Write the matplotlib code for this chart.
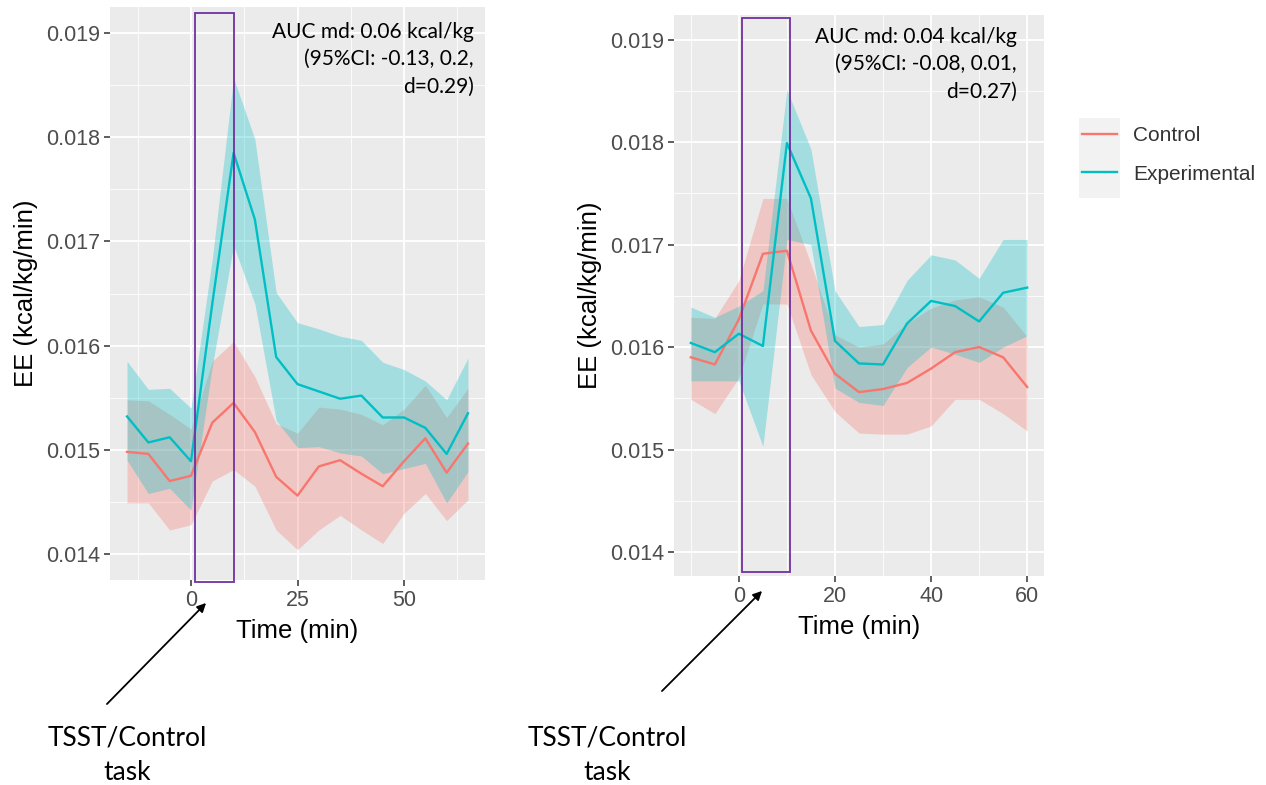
import matplotlib
matplotlib.use("Agg")
import matplotlib.pyplot as plt
from matplotlib.patches import Rectangle, FancyArrowPatch
from matplotlib.ticker import FixedLocator

# 左图: TSST 前后能量消耗
time_l = [-15, -10, -5, 0, 5, 10, 15, 20, 25, 30, 35, 40, 45, 50, 55, 60, 65]
ctrl_l = [0.01498, 0.01496, 0.01470, 0.01475, 0.01526, 0.01545, 0.01517, 0.01474, 0.01456,
          0.01484, 0.01490, 0.01477, 0.01465, 0.01489, 0.01511, 0.01478, 0.01506]
ctrl_l_hi = [0.01548, 0.01547, 0.01534, 0.01520, 0.01585, 0.01604, 0.01570, 0.01525, 0.01516,
             0.01541, 0.01539, 0.01534, 0.01524, 0.01539, 0.01562, 0.01531, 0.01559]
ctrl_l_lo = [0.01449, 0.01449, 0.01423, 0.01428, 0.01470, 0.01481, 0.01465, 0.01423, 0.01404,
             0.01423, 0.01437, 0.01423, 0.01410, 0.01439, 0.01458, 0.01432, 0.01452]
exp_l = [0.01532, 0.01507, 0.01512, 0.01489, 0.01640, 0.01785, 0.01721, 0.01589, 0.01563,
         0.01556, 0.01549, 0.01552, 0.01531, 0.01531, 0.01521, 0.01496, 0.01535]
exp_l_hi = [0.01585, 0.01558, 0.01559, 0.01540, 0.01683, 0.01857, 0.01798, 0.01651, 0.01622,
            0.01616, 0.01609, 0.01605, 0.01584, 0.01577, 0.01566, 0.01548, 0.01588]
exp_l_lo = [0.01490, 0.01458, 0.01463, 0.01442, 0.01580, 0.01696, 0.01640, 0.01528, 0.01502,
            0.01503, 0.01497, 0.01494, 0.01477, 0.01482, 0.01487, 0.01449, 0.01479]

# 右图
time_r = [-10, -5, 0, 5, 10, 15, 20, 25, 30, 35, 40, 45, 50, 55, 60]
ctrl_r = [0.01590, 0.01583, 0.01627, 0.01691, 0.01694, 0.01616, 0.01574, 0.01556, 0.01559,
          0.01565, 0.01579, 0.01595, 0.01600, 0.01590, 0.01561]
ctrl_r_hi = [0.01629, 0.01628, 0.01665, 0.01745, 0.01745, 0.01681, 0.01612, 0.01600, 0.01603,
             0.01623, 0.01638, 0.01646, 0.01649, 0.01639, 0.01610]
ctrl_r_lo = [0.01549, 0.01535, 0.01570, 0.01642, 0.01642, 0.01573, 0.01537, 0.01516, 0.01515,
             0.01515, 0.01523, 0.01549, 0.01549, 0.01535, 0.01518]
exp_r = [0.01604, 0.01595, 0.01613, 0.01601, 0.01799, 0.01745, 0.01606, 0.01584, 0.01583,
         0.01623, 0.01645, 0.01640, 0.01625, 0.01653, 0.01658]
exp_r_hi = [0.01639, 0.01629, 0.01640, 0.01655, 0.01851, 0.01793, 0.01655, 0.01620, 0.01622,
            0.01665, 0.01690, 0.01685, 0.01667, 0.01705, 0.01705]
exp_r_lo = [0.01567, 0.01567, 0.01567, 0.01503, 0.01705, 0.01700, 0.01560, 0.01546, 0.01543,
            0.01580, 0.01600, 0.01593, 0.01585, 0.01600, 0.01611]

yticks = [0.014, 0.015, 0.016, 0.017, 0.018, 0.019]
xticks_l = [0, 25, 50]
xticks_r = [0, 20, 40, 60]
groups = ["Control", "Experimental"]
notes = ["AUC md: 0.06 kcal/kg\n(95%CI: -0.13, 0.2,\nd=0.29)",
         "AUC md: 0.04 kcal/kg\n(95%CI: -0.08, 0.01,\nd=0.27)"]

RED = "#F8766D"
CYAN = "#00BFC4"
PURPLE = "#7030A0"
W, H = 1266, 785


def px(x, y):
    # 像素坐标 -> figure 坐标
    return x / W, 1 - y / H


def style_axis(ax, xticks, xminor, xlim, ylim):
    ax.set_facecolor("#EBEBEB")
    for s in ax.spines.values():
        s.set_visible(False)
    ax.set_xlim(*xlim)
    ax.set_ylim(*ylim)
    ax.xaxis.set_major_locator(FixedLocator(xticks))
    ax.xaxis.set_minor_locator(FixedLocator(xminor))
    ax.yaxis.set_major_locator(FixedLocator(yticks))
    ax.yaxis.set_minor_locator(FixedLocator([v + 0.0005 for v in yticks[:-1]]))
    ax.set_yticklabels(["%.3f" % v for v in yticks])
    ax.grid(which="major", color="white", lw=1.3)
    ax.grid(which="minor", color="white", lw=0.6)
    ax.set_axisbelow(True)
    ax.tick_params(which="major", length=4, width=1.1, color="#333333",
                   labelcolor="#4D4D4D", labelsize=15.5, pad=3)
    ax.tick_params(which="minor", length=0)
    ax.set_xlabel("Time (min)", fontsize=18.5, color="black", labelpad=6)
    ax.set_ylabel("EE (kcal/kg/min)", fontsize=18.5, color="black", labelpad=6)


def draw_panel(ax, t, c, c_lo, c_hi, e, e_lo, e_hi):
    ax.fill_between(t, c_lo, c_hi, color=RED, alpha=0.3, lw=0)
    ax.fill_between(t, e_lo, e_hi, color=CYAN, alpha=0.3, lw=0)
    l1, = ax.plot(t, c, color=RED, lw=1.7, label=groups[0])
    l2, = ax.plot(t, e, color=CYAN, lw=1.7, label=groups[1])
    return [l1, l2]


def main():
    plt.rcParams["font.family"] = ["Liberation Sans", "DejaVu Sans"]
    fig = plt.figure(figsize=(12.66, 7.85), dpi=100)

    ax1 = fig.add_axes([110 / W, 1 - 580 / H, 375 / W, 573 / H])
    ax2 = fig.add_axes([674 / W, 1 - 576 / H, 370 / W, 561 / H])

    handles = draw_panel(ax1, time_l, ctrl_l, ctrl_l_lo, ctrl_l_hi, exp_l, exp_l_lo, exp_l_hi)
    draw_panel(ax2, time_r, ctrl_r, ctrl_r_lo, ctrl_r_hi, exp_r, exp_r_lo, exp_r_hi)

    style_axis(ax1, xticks_l, [-12.5, 12.5, 37.5, 62.5], (-19, 69), (0.01375, 0.01925))
    style_axis(ax2, xticks_r, [-10, 10, 30, 50], (-13.5, 63.5), (0.013766, 0.01924))

    # 紫色方框标出 TSST 时段
    ax1.add_patch(Rectangle((0.9, -0.0035), 9.1, 0.993, transform=ax1.get_xaxis_transform(),
                            fill=False, ec=PURPLE, lw=1.3, clip_on=False, zorder=5))
    ax2.add_patch(Rectangle((0.6, 0.0071), 10.0, 0.9876, transform=ax2.get_xaxis_transform(),
                            fill=False, ec=PURPLE, lw=1.3, clip_on=False, zorder=5))

    # AUC 注释
    for (x, y), txt in zip([(474, 22), (1017, 27)], notes):
        fig.text(*px(x, y), txt, ha="right", va="top", fontsize=15,
                 family=["Lato", "DejaVu Sans"], linespacing=1.45)

    # 箭头 + TSST 文字
    for tail, head, cx in [((105, 706), (208, 601), 127), ((660, 693), (764, 589), 607)]:
        fig.add_artist(FancyArrowPatch(px(*tail), px(*head), transform=fig.transFigure,
                                       arrowstyle="-|>", mutation_scale=13, color="black", lw=1.3))
        fig.text(*px(cx, 755), "TSST/Control\ntask", ha="center", va="center", fontsize=19,
                 family=["Lato", "DejaVu Sans"], linespacing=1.45)

    # 图例
    fig.add_artist(Rectangle(px(1079, 198), 41 / W, 80 / H, transform=fig.transFigure,
                             color="#F2F2F2", lw=0, zorder=0))
    fig.legend(handles, groups, loc="upper left", bbox_to_anchor=px(1082, 126),
               frameon=False, fontsize=15, handlelength=1.7, handletextpad=0.75,
               labelspacing=0.95, borderpad=0, borderaxespad=0, labelcolor="#333333")

    fig.savefig("out.png", dpi=100)


if __name__ == "__main__":
    main()
